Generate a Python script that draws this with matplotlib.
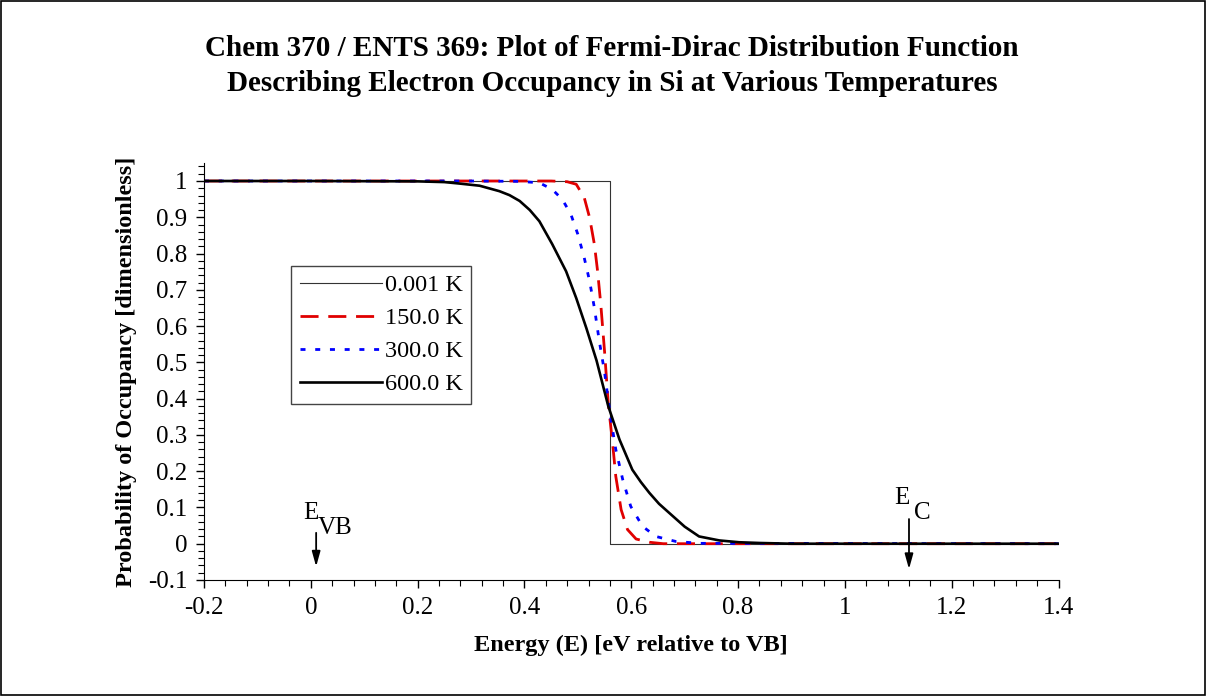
import matplotlib
matplotlib.use('Agg')
import matplotlib.pyplot as plt
from matplotlib.patches import Rectangle
from matplotlib.ticker import MultipleLocator

plt.rcParams['font.family'] = ['Liberation Serif', 'DejaVu Serif']
plt.rcParams['lines.scale_dashes'] = False

# values
e_step = [-0.2, 0.56, 0.56, 1.4]
f_step = [1.0, 1.0, 0.0, 0.0]

e_150 = [-0.2, 0.45, 0.480, 0.497, 0.512, 0.522, 0.531, 0.537, 0.543, 0.550,
         0.557, 0.565, 0.571, 0.581, 0.593, 0.609, 0.634, 0.66, 1.4]
f_150 = [1.0, 1.0, 0.998, 0.991, 0.954, 0.899, 0.825, 0.751, 0.659, 0.53,
         0.385, 0.278, 0.186, 0.094, 0.039, 0.013, 0.004, 0.0, 0.0]

e_300 = [-0.2, 0.3, 0.391, 0.428, 0.452, 0.471, 0.487, 0.500, 0.512, 0.522,
         0.531, 0.540, 0.550, 0.560, 0.571, 0.584, 0.599, 0.621, 0.646, 0.684,
         0.73, 1.4]
f_300 = [1.0, 1.0, 0.999, 0.995, 0.977, 0.949, 0.908, 0.853, 0.788, 0.724,
         0.650, 0.560, 0.473, 0.361, 0.260, 0.177, 0.103, 0.048, 0.020, 0.006,
         0.001, 0.0]

e_600 = [-0.2, 0.0, 0.2, 0.25, 0.278, 0.316, 0.353, 0.372, 0.391, 0.41, 0.428,
         0.452, 0.478, 0.497, 0.516, 0.535, 0.557, 0.578, 0.602, 0.618, 0.634,
         0.652, 0.671, 0.700, 0.727, 0.765, 0.802, 0.84, 0.9, 1.4]
f_600 = [1.0, 1.0, 0.999, 0.997, 0.993, 0.987, 0.972, 0.961, 0.945, 0.92, 0.889,
         0.826, 0.751, 0.677, 0.594, 0.505, 0.379, 0.287, 0.204, 0.17, 0.140,
         0.11, 0.085, 0.047, 0.020, 0.009, 0.004, 0.002, 0.0, 0.0]

labels = ['0.001 K', '150.0 K', '300.0 K', '600.0 K']

e_vb = 0.01
e_c = 1.12

fig = plt.figure(figsize=(12.07, 6.96), dpi=100)
fig.patches.append(Rectangle((0.0005, 0.0008), 0.998, 0.998, transform=fig.transFigure,
                             fill=False, edgecolor='black', linewidth=1.2))
ax = fig.add_axes([0.169, 0.1667, 0.708, 0.5993])

ax.plot(e_step, f_step, color='#333333', linewidth=0.8, label=labels[0])
ax.plot(e_150, f_150, color='#e00000', linewidth=2.0, dashes=(13, 7), label=labels[1])
ax.plot(e_300, f_300, color='#0000ff', linewidth=2.0, dashes=(3.6, 7), label=labels[2])
ax.plot(e_600, f_600, color='black', linewidth=1.9, label=labels[3])

ax.set_xlim(-0.2, 1.4)
ax.set_ylim(-0.1, 1.05)
ax.spines['top'].set_visible(False)
ax.spines['right'].set_visible(False)
ax.xaxis.set_minor_locator(MultipleLocator(0.04))
ax.yaxis.set_minor_locator(MultipleLocator(0.02))
ax.set_xticks([-0.2, 0, 0.2, 0.4, 0.6, 0.8, 1, 1.2, 1.4])
ax.set_xticklabels(['-0.2', '0', '0.2', '0.4', '0.6', '0.8', '1', '1.2', '1.4'])
ax.set_yticks([-0.1, 0, 0.1, 0.2, 0.3, 0.4, 0.5, 0.6, 0.7, 0.8, 0.9, 1])
ax.set_yticklabels(['-0.1', '0', '0.1', '0.2', '0.3', '0.4', '0.5', '0.6', '0.7',
                    '0.8', '0.9', '1'])
ax.tick_params(which='major', length=6, width=1, labelsize=18, direction='out', pad=6)
ax.tick_params(which='minor', length=4, width=0.8, direction='out')

ax.set_xlabel('Energy (E) [eV relative to VB]', fontsize=17.5, fontweight='bold', labelpad=12)
ax.set_ylabel('Probability of Occupancy [dimensionless]', fontsize=17.5, fontweight='bold',
              labelpad=8)

fig.text(0.507, 0.930, 'Chem 370 / ENTS 369: Plot of Fermi-Dirac Distribution Function',
         ha='center', va='center', fontsize=21, fontweight='bold')
fig.text(0.507, 0.880, 'Describing Electron Occupancy in Si at Various Temperatures',
         ha='center', va='center', fontsize=21, fontweight='bold')

leg = ax.legend(loc='upper left', bbox_to_anchor=(0.102, 0.753), borderaxespad=0,
                fontsize=17.5, handlelength=3.4, handletextpad=0.1, labelspacing=0.45,
                borderpad=0.35, fancybox=False, framealpha=1, edgecolor='#444444')
leg.get_frame().set_linewidth(1.0)

arrow = dict(arrowstyle='-|>,head_length=0.9,head_width=0.25', color='black',
             linewidth=1.3, shrinkA=0, shrinkB=0)
ax.annotate('', xy=(e_vb, -0.063), xytext=(e_vb, 0.03), arrowprops=arrow)
ax.annotate('', xy=(e_c, -0.07), xytext=(e_c, 0.068), arrowprops=arrow)
ax.text(e_vb - 0.01, 0.086, 'E', fontsize=18, ha='center', va='center')
ax.text(e_vb + 0.035, 0.044, 'VB', fontsize=18, ha='center', va='center')
ax.text(e_c - 0.013, 0.126, 'E', fontsize=18, ha='center', va='center')
ax.text(e_c + 0.025, 0.085, 'C', fontsize=18, ha='center', va='center')

fig.savefig('out.png', dpi=100)
